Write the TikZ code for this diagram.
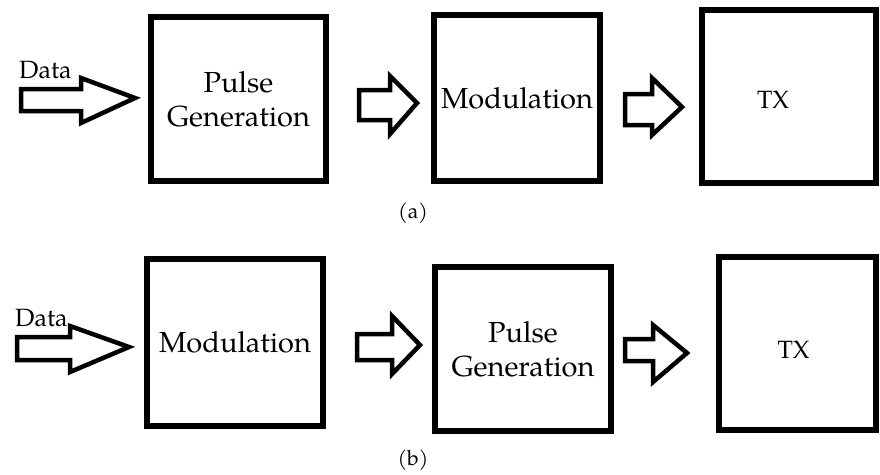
\documentclass[tikz,border=0pt]{standalone}
\usepackage{fontspec}
\setmainfont{TeX Gyre Pagella}
\begin{document}
\begin{tikzpicture}[x=1pt,y=-1pt,
  blk/.style={draw=black,line width=5.5pt,fill=white,minimum width=#1},
  blkarr/.style={draw=black,line width=4.5pt,line join=miter,fill=white},
  big/.style={font=\fontsize{29}{34}\selectfont,align=center},
  tx/.style={font=\fontsize{25}{30}\selectfont},
  small/.style={font=\fontsize{21}{24}\selectfont,inner sep=0pt},
  datatxt/.style={font=\fontsize{25}{28}\selectfont,inner sep=0pt,anchor=base west}]
\useasboundingbox (0,0) rectangle (880,474);
% row (a)
\node[blk=175pt,minimum height=164pt,big] (a1) at (238.5,99) {Pulse\\Generation};
\node[blk=166pt,minimum height=166pt,big] (a2) at (517,98) {Modulation};
\node[blk=174pt,minimum height=173pt] (a3) at (789,96.5) {};
\node[tx] (a3t) at ([xshift=-16pt,yshift=-3pt]a3.center) {TX};
\node[datatxt] (ad) at (19,78) {Data};
\draw[blkarr] (21,89) -- (81,89) -- (81,78) -- (135,98) -- (81,123) -- (81,111) -- (21,111) -- cycle;
\draw[blkarr] (359,90) -- (390,90) -- (390,76) -- (417,103) -- (390,134) -- (390,120) -- (359,120) -- cycle;
\draw[blkarr] (625,94) -- (652,94) -- (652,78) -- (682,107) -- (652,135) -- (652,125) -- (625,125) -- cycle;
\node[small] (la) at (413,213) {(a)};
% row (b)
\node[blk=176pt,minimum height=167pt,big] (b1) at (235,342.5) {Modulation};
\node[blk=176pt,minimum height=164pt,big] (b2) at (523,349) {Pulse\\Generation};
\node[blk=157pt,minimum height=173pt] (b3) at (797.5,343.5) {};
\node[tx] (b3t) at ([xshift=-4pt,yshift=-6pt]b3.center) {TX};
\node[datatxt] (bd) at (15,326) {Data};
\draw[blkarr] (17,337) -- (70,337) -- (70,326) -- (129,347) -- (70,372) -- (70,360) -- (17,360) -- cycle;
\draw[blkarr] (357,334) -- (392,334) -- (392,316) -- (420,345) -- (392,374) -- (392,360) -- (357,360) -- cycle;
\draw[blkarr] (625,339) -- (653,339) -- (653,325) -- (687,353) -- (653,382) -- (653,361) -- (625,361) -- cycle;
\node[small] (lb) at (413,460) {(b)};
\end{tikzpicture}
\end{document}
